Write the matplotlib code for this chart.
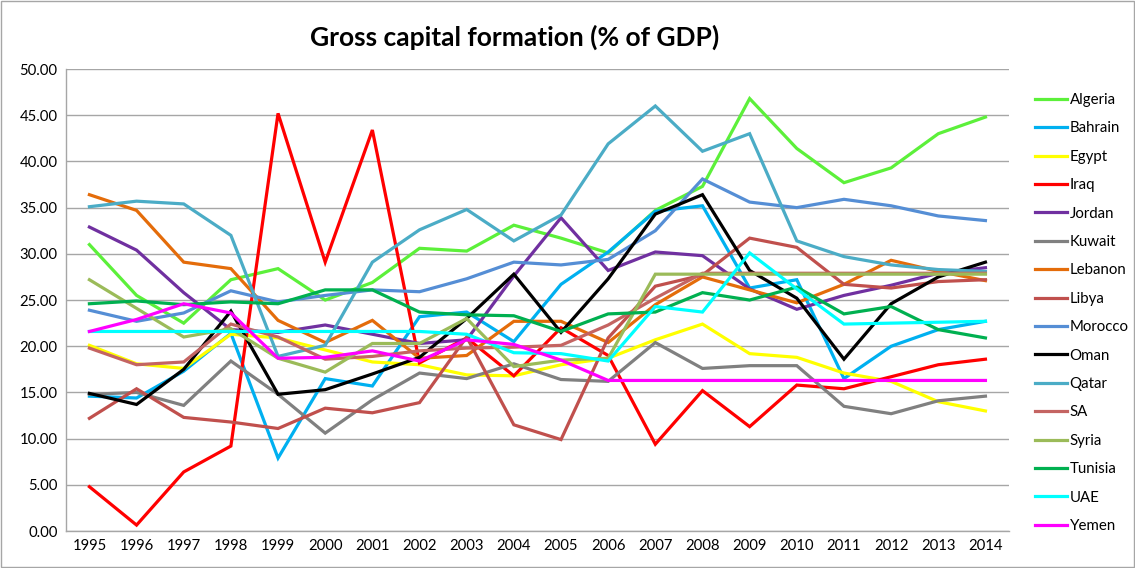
import matplotlib
matplotlib.use("Agg")
import matplotlib.pyplot as plt
from matplotlib.patches import Rectangle

years = [str(y) for y in range(1995, 2015)]

algeria = [31.0, 25.5, 22.5, 27.2, 28.4, 25.0, 26.9, 30.6, 30.3, 33.1,
           31.7, 30.1, 34.7, 37.3, 46.8, 41.4, 37.7, 39.3, 43.0, 44.8]
bahrain = [14.6, 14.4, 17.3, 21.4, 7.9, 16.5, 15.7, 23.2, 23.7, 20.5,
           26.7, 30.2, 34.6, 35.2, 26.3, 27.2, 16.5, 20.0, 21.8, 22.7]
egypt = [20.1, 18.1, 17.6, 21.3, 20.9, 19.6, 18.3, 18.0, 16.9, 16.8,
         18.0, 18.7, 20.7, 22.4, 19.2, 18.8, 17.1, 16.2, 14.0, 13.0]
iraq = [4.8, 0.65, 6.4, 9.2, 45.2, 29.1, 43.4, 18.2, 20.9, 16.8,
        22.0, 19.0, 9.4, 15.2, 11.3, 15.8, 15.4, 16.7, 18.0, 18.6]
jordan = [32.9, 30.4, 25.8, 21.8, 21.5, 22.3, 21.3, 20.3, 20.7, 27.6,
          33.9, 28.2, 30.2, 29.8, 26.2, 24.0, 25.5, 26.6, 27.9, 28.5]
kuwait = [14.8, 15.0, 13.6, 18.4, 14.8, 10.6, 14.2, 17.1, 16.5, 18.1,
          16.4, 16.2, 20.4, 17.6, 17.9, 17.9, 13.5, 12.7, 14.1, 14.6]
lebanon = [36.4, 34.7, 29.1, 28.4, 22.8, 20.4, 22.8, 18.7, 19.0, 22.7,
           22.7, 20.4, 24.5, 27.5, 26.1, 24.7, 26.7, 29.3, 28.1, 27.1]
libya = [12.2, 15.4, 12.3, 11.8, 11.1, 13.3, 12.8, 13.9, 21.0, 11.5,
         9.9, 20.9, 26.5, 27.7, 31.7, 30.7, 26.7, 26.3, 27.0, 27.2]
morocco = [23.9, 22.7, 23.6, 26.0, 24.8, 25.5, 26.1, 25.9, 27.3, 29.1,
           28.8, 29.4, 32.5, 38.1, 35.6, 35.0, 35.9, 35.2, 34.1, 33.6]
oman = [14.9, 13.7, 17.5, 23.8, 14.8, 15.3, 17.0, 18.8, 23.0, 27.8,
        21.5, 27.3, 34.3, 36.4, 28.2, 25.2, 18.6, 24.6, 27.5, 29.1]
qatar = [35.1, 35.7, 35.4, 32.0, 18.9, 20.1, 29.1, 32.6, 34.8, 31.4,
         34.2, 41.9, 46.0, 41.1, 43.0, 31.4, 29.7, 28.8, 28.3, 28.1]
sa = [19.8, 18.0, 18.3, 22.4, 21.0, 18.6, 18.9, 19.5, 19.8, 19.9,
      20.1, 22.3, 25.2, 27.9, 27.9, 27.9, 27.9, 27.9, 27.9, 27.9]
syria = [27.2, 24.1, 21.0, 21.9, 18.7, 17.2, 20.3, 20.3, 23.0, 17.8,
         18.5, 18.7, 27.8, 27.8, 27.8, 27.8, 27.8, 27.8, 27.8, 27.8]
tunisia = [24.6, 24.9, 24.5, 24.8, 24.6, 26.1, 26.1, 23.7, 23.4, 23.3,
           21.6, 23.5, 23.7, 25.8, 25.0, 26.4, 23.5, 24.3, 21.8, 20.9]
uae = [21.6, 21.6, 21.6, 21.6, 21.6, 21.6, 21.6, 21.6, 21.3, 19.3,
       19.2, 18.4, 24.3, 23.7, 30.1, 26.2, 22.4, 22.5, 22.6, 22.7]
yemen = [21.6, 22.9, 24.6, 23.6, 18.7, 18.8, 19.5, 18.4, 20.7, 20.2,
         18.5, 16.3, 16.3, 16.3, 16.3, 16.3, 16.3, 16.3, 16.3, 16.3]

countries = ["Algeria", "Bahrain", "Egypt", "Iraq", "Jordan", "Kuwait", "Lebanon", "Libya",
             "Morocco", "Oman", "Qatar", "SA", "Syria", "Tunisia", "UAE", "Yemen"]
series = [algeria, bahrain, egypt, iraq, jordan, kuwait, lebanon, libya,
          morocco, oman, qatar, sa, syria, tunisia, uae, yemen]
colors = ["#5CF03A", "#00B0F0", "#FFFF00", "#FF0000", "#7030A0", "#808080", "#E46C0A", "#C0504D",
          "#558ED5", "#000000", "#4BACC6", "#C46462", "#9BBB59", "#00B050", "#00FFFF", "#FF00FF"]

plt.rcParams['font.family'] = ['Lato', 'DejaVu Sans']

fig = plt.figure(figsize=(11.35, 5.68), dpi=100)
ax = fig.add_axes([0.058, 0.065, 0.831, 0.8135])

x = list(range(len(years)))
for name, vals, c in zip(countries, series, colors):
    ax.plot(x, vals, color=c, linewidth=2.3, label=name, solid_joinstyle='miter')

ax.set_xlim(-0.5, len(years) - 0.5)
ax.set_ylim(0, 50)
ax.set_yticks([i * 5 for i in range(11)])
ax.set_yticklabels(['{:.2f}'.format(i * 5) for i in range(11)])
ax.set_xticks(x)
ax.set_xticklabels(years)
ax.tick_params(axis='both', length=0, labelsize=10.7, colors='#000000', pad=6)
ax.yaxis.grid(True, color='#A6A6A6', linewidth=1)
ax.set_axisbelow(True)
for side in ['top', 'right']:
    ax.spines[side].set_visible(False)
for side in ['left', 'bottom']:
    ax.spines[side].set_color('#A6A6A6')
    ax.spines[side].set_linewidth(1)

fig.text(0.453, 0.935, 'Gross capital formation (% of GDP)', ha='center', va='center',
         fontsize=19, fontweight='bold')

leg = fig.legend(loc='upper left', bbox_to_anchor=(0.9, 0.86), frameon=False,
                 fontsize=10.8, handlelength=2.1, handletextpad=0.2, labelspacing=0.96)
for line in leg.get_lines():
    line.set_linewidth(2.3)

fig.patches.append(Rectangle((0.001, 0.002), 0.998, 0.996, transform=fig.transFigure,
                             fill=False, edgecolor='#A6A6A6', linewidth=1))

fig.savefig('out.png', dpi=100)
